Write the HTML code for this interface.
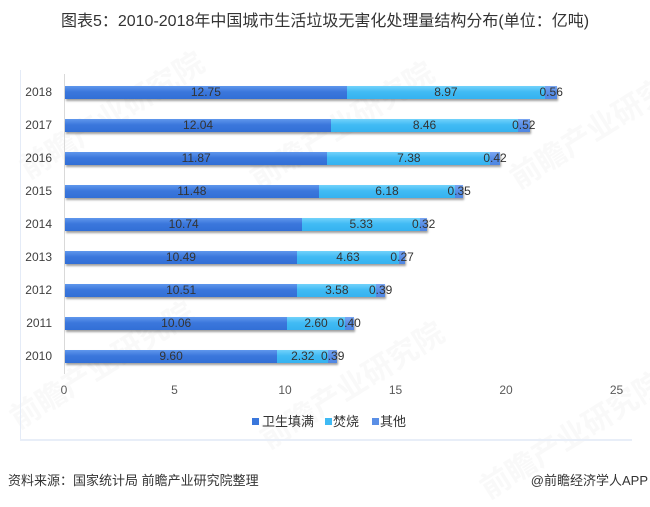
<!DOCTYPE html>
<html>
<head>
<meta charset="utf-8">
<style>
  html,body{margin:0;padding:0;background:#fff;}
  body{width:650px;height:501px;position:relative;overflow:hidden;font-family:"Liberation Sans","Noto Sans CJK SC",sans-serif;color:#333;}
  .abs{position:absolute;}
  .title{left:0;width:650px;top:11px;text-align:center;font-size:16px;line-height:22px;color:#333;white-space:nowrap;}
  .box-l{left:20px;top:70px;width:1px;height:369px;background:#e4ebf7;}
  .box-b{left:20px;top:439px;width:612px;height:2px;background:#e8eef8;}
  .axis{left:64px;top:74px;width:1px;height:300px;background:#d9d9d9;}
  .row{position:absolute;left:65px;height:13px;display:flex;box-shadow:1px 2px 2px rgba(0,0,0,0.38);}
  .s{position:relative;height:13px;}
  .s span{position:absolute;left:50%;top:0;transform:translateX(-50%);font-size:12px;line-height:13px;color:#333;white-space:nowrap;}
  .a{background:linear-gradient(#5f97ec,#3b77dc 45%,#326fd6);}
  .b{background:linear-gradient(#72d2fb,#41bbf4 45%,#35b2f0);}
  .c{background:linear-gradient(#7aa6f2,#5a8fe6 45%,#4f86e2);}
  .yr{position:absolute;left:0;width:52px;text-align:right;font-size:12px;line-height:13px;color:#404040;}
  .tick{position:absolute;top:383px;width:40px;margin-left:-20px;text-align:center;font-size:12px;line-height:14px;color:#595959;}
  .leg{top:414px;font-size:13px;line-height:16px;color:#333;white-space:nowrap;}
  .sq{position:absolute;width:7px;height:7px;top:418px;}
  .foot{top:473px;font-size:13px;line-height:16px;color:#333;white-space:nowrap;}
  .wm{position:absolute;font-size:30px;font-weight:bold;color:rgba(120,120,120,0.045);white-space:nowrap;transform:rotate(-32deg);transform-origin:left top;}
</style>
</head>
<body>
<div class="abs title">图表5：2010-2018年中国城市生活垃圾无害化处理量结构分布(单位：亿吨)</div>

<div class="wm" style="left:10px;top:150px;">前瞻产业研究院</div>
<div class="wm" style="left:240px;top:160px;">前瞻产业研究院</div>
<div class="wm" style="left:500px;top:160px;">前瞻产业研究院</div>
<div class="wm" style="left:0px;top:400px;">前瞻产业研究院</div>
<div class="wm" style="left:250px;top:420px;">前瞻产业研究院</div>
<div class="wm" style="left:470px;top:470px;">前瞻产业研究院</div>

<div class="abs box-l"></div>
<div class="abs box-b"></div>
<div class="abs axis"></div>

<div class="yr" style="top:86px">2018</div>
<div class="row" style="top:86px"><div class="s a" style="width:calc(12.75*22.1px)"><span>12.75</span></div><div class="s b" style="width:calc(8.97*22.1px)"><span>8.97</span></div><div class="s c" style="width:calc(0.56*22.1px)"><span>0.56</span></div></div>

<div class="yr" style="top:119px">2017</div>
<div class="row" style="top:119px"><div class="s a" style="width:calc(12.04*22.1px)"><span>12.04</span></div><div class="s b" style="width:calc(8.46*22.1px)"><span>8.46</span></div><div class="s c" style="width:calc(0.52*22.1px)"><span>0.52</span></div></div>

<div class="yr" style="top:152px">2016</div>
<div class="row" style="top:152px"><div class="s a" style="width:calc(11.87*22.1px)"><span>11.87</span></div><div class="s b" style="width:calc(7.38*22.1px)"><span>7.38</span></div><div class="s c" style="width:calc(0.42*22.1px)"><span>0.42</span></div></div>

<div class="yr" style="top:185px">2015</div>
<div class="row" style="top:185px"><div class="s a" style="width:calc(11.48*22.1px)"><span>11.48</span></div><div class="s b" style="width:calc(6.18*22.1px)"><span>6.18</span></div><div class="s c" style="width:calc(0.35*22.1px)"><span>0.35</span></div></div>

<div class="yr" style="top:218px">2014</div>
<div class="row" style="top:218px"><div class="s a" style="width:calc(10.74*22.1px)"><span>10.74</span></div><div class="s b" style="width:calc(5.33*22.1px)"><span>5.33</span></div><div class="s c" style="width:calc(0.32*22.1px)"><span>0.32</span></div></div>

<div class="yr" style="top:251px">2013</div>
<div class="row" style="top:251px"><div class="s a" style="width:calc(10.49*22.1px)"><span>10.49</span></div><div class="s b" style="width:calc(4.63*22.1px)"><span>4.63</span></div><div class="s c" style="width:calc(0.27*22.1px)"><span>0.27</span></div></div>

<div class="yr" style="top:284px">2012</div>
<div class="row" style="top:284px"><div class="s a" style="width:calc(10.51*22.1px)"><span>10.51</span></div><div class="s b" style="width:calc(3.58*22.1px)"><span>3.58</span></div><div class="s c" style="width:calc(0.39*22.1px)"><span>0.39</span></div></div>

<div class="yr" style="top:317px">2011</div>
<div class="row" style="top:317px"><div class="s a" style="width:calc(10.06*22.1px)"><span>10.06</span></div><div class="s b" style="width:calc(2.60*22.1px)"><span>2.60</span></div><div class="s c" style="width:calc(0.40*22.1px)"><span>0.40</span></div></div>

<div class="yr" style="top:350px">2010</div>
<div class="row" style="top:350px"><div class="s a" style="width:calc(9.60*22.1px)"><span>9.60</span></div><div class="s b" style="width:calc(2.32*22.1px)"><span>2.32</span></div><div class="s c" style="width:calc(0.39*22.1px)"><span>0.39</span></div></div>

<div class="tick" style="left:64px">0</div>
<div class="tick" style="left:174.5px">5</div>
<div class="tick" style="left:285px">10</div>
<div class="tick" style="left:395.5px">15</div>
<div class="tick" style="left:506px">20</div>
<div class="tick" style="left:616.5px">25</div>

<div class="sq" style="left:252px;background:#3a77dc;"></div>
<div class="abs leg" style="left:262px">卫生填满</div>
<div class="sq" style="left:325px;background:#3fbaf4;"></div>
<div class="abs leg" style="left:333px">焚烧</div>
<div class="sq" style="left:372px;background:#5a8fe6;"></div>
<div class="abs leg" style="left:380px">其他</div>

<div class="abs foot" style="left:8px">资料来源：国家统计局 前瞻产业研究院整理</div>
<div class="abs foot" style="right:2px">@前瞻经济学人APP</div>
</body>
</html>
